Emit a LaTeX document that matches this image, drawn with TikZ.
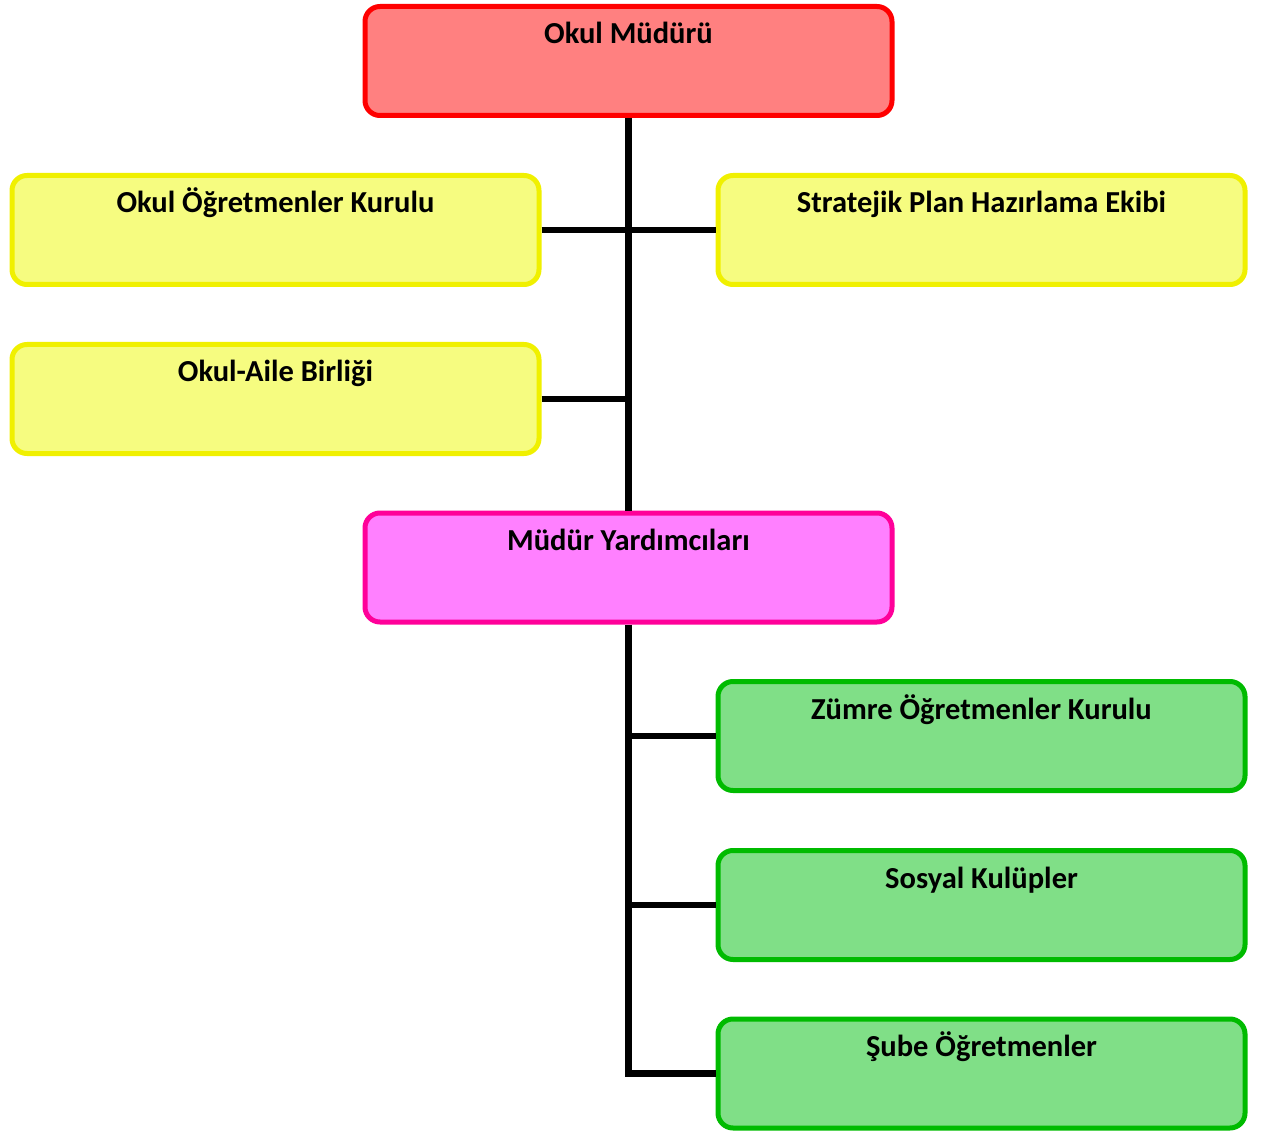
\documentclass[tikz,border=0pt]{standalone}
\usepackage{fontspec}
\setmainfont{Carlito}
\usepackage{xcolor}
\usetikzlibrary{positioning}

\definecolor{mudurfill}{HTML}{FF8080}
\definecolor{mudurline}{HTML}{FF0000}
\definecolor{kurulfill}{HTML}{F6FC80}
\definecolor{kurulline}{HTML}{F0F000}
\definecolor{yardfill}{HTML}{FF80FF}
\definecolor{yardline}{HTML}{FF0099}
\definecolor{zumrefill}{HTML}{80DF87}
\definecolor{zumreline}{HTML}{00BB00}

\begin{document}
\begin{tikzpicture}[x=1pt,y=-1pt,
    unit/.style={draw,rounded corners=15pt,line width=5pt,minimum width=527pt,minimum height=109pt,inner sep=0pt},
    title/.style={anchor=base,yshift=-40pt,font=\fontsize{30.5}{34}\selectfont\bfseries},
    conn/.style={line width=6.5pt}]
  \useasboundingbox (0,0) rectangle (1261,1131);
  % top
  \node (mudur) [unit,fill=mudurfill,draw=mudurline,label={[title]north:Okul Müdürü}] at (628.5,61) {};
  % yellow units
  \node (ogretmen) [unit,fill=kurulfill,draw=kurulline,label={[title]north:Okul Öğretmenler Kurulu}] at (275.5,230) {};
  \node (strateji) [unit,fill=kurulfill,draw=kurulline,label={[title]north:Stratejik Plan Hazırlama Ekibi}] at (981.5,230) {};
  \node (aile) [unit,fill=kurulfill,draw=kurulline,label={[title]north:Okul-Aile Birliği}] at (275.5,399) {};
  % assistants
  \node (yard) [unit,fill=yardfill,draw=yardline,label={[title]north:Müdür Yardımcıları}] at (628.5,567.5) {};
  % green units
  \node (zumre) [unit,fill=zumrefill,draw=zumreline,label={[title]north:Zümre Öğretmenler Kurulu}] at (981.5,736) {};
  \node (sosyal) [unit,fill=zumrefill,draw=zumreline,label={[title]north:Sosyal Kulüpler}] at (981.5,905) {};
  \node (sube) [unit,fill=zumrefill,draw=zumreline,label={[title]north:Şube Öğretmenler}] at (981.5,1073.5) {};

  \draw[conn]
    (mudur.south) -- (yard.north)
    (ogretmen.east) -- (strateji.west)
    (aile.east) -- (aile.east -| mudur.south)
    (yard.south) |- (sube.west)
    (zumre.west) -- (zumre.west -| yard.south)
    (sosyal.west) -- (sosyal.west -| yard.south);
\end{tikzpicture}
\end{document}
